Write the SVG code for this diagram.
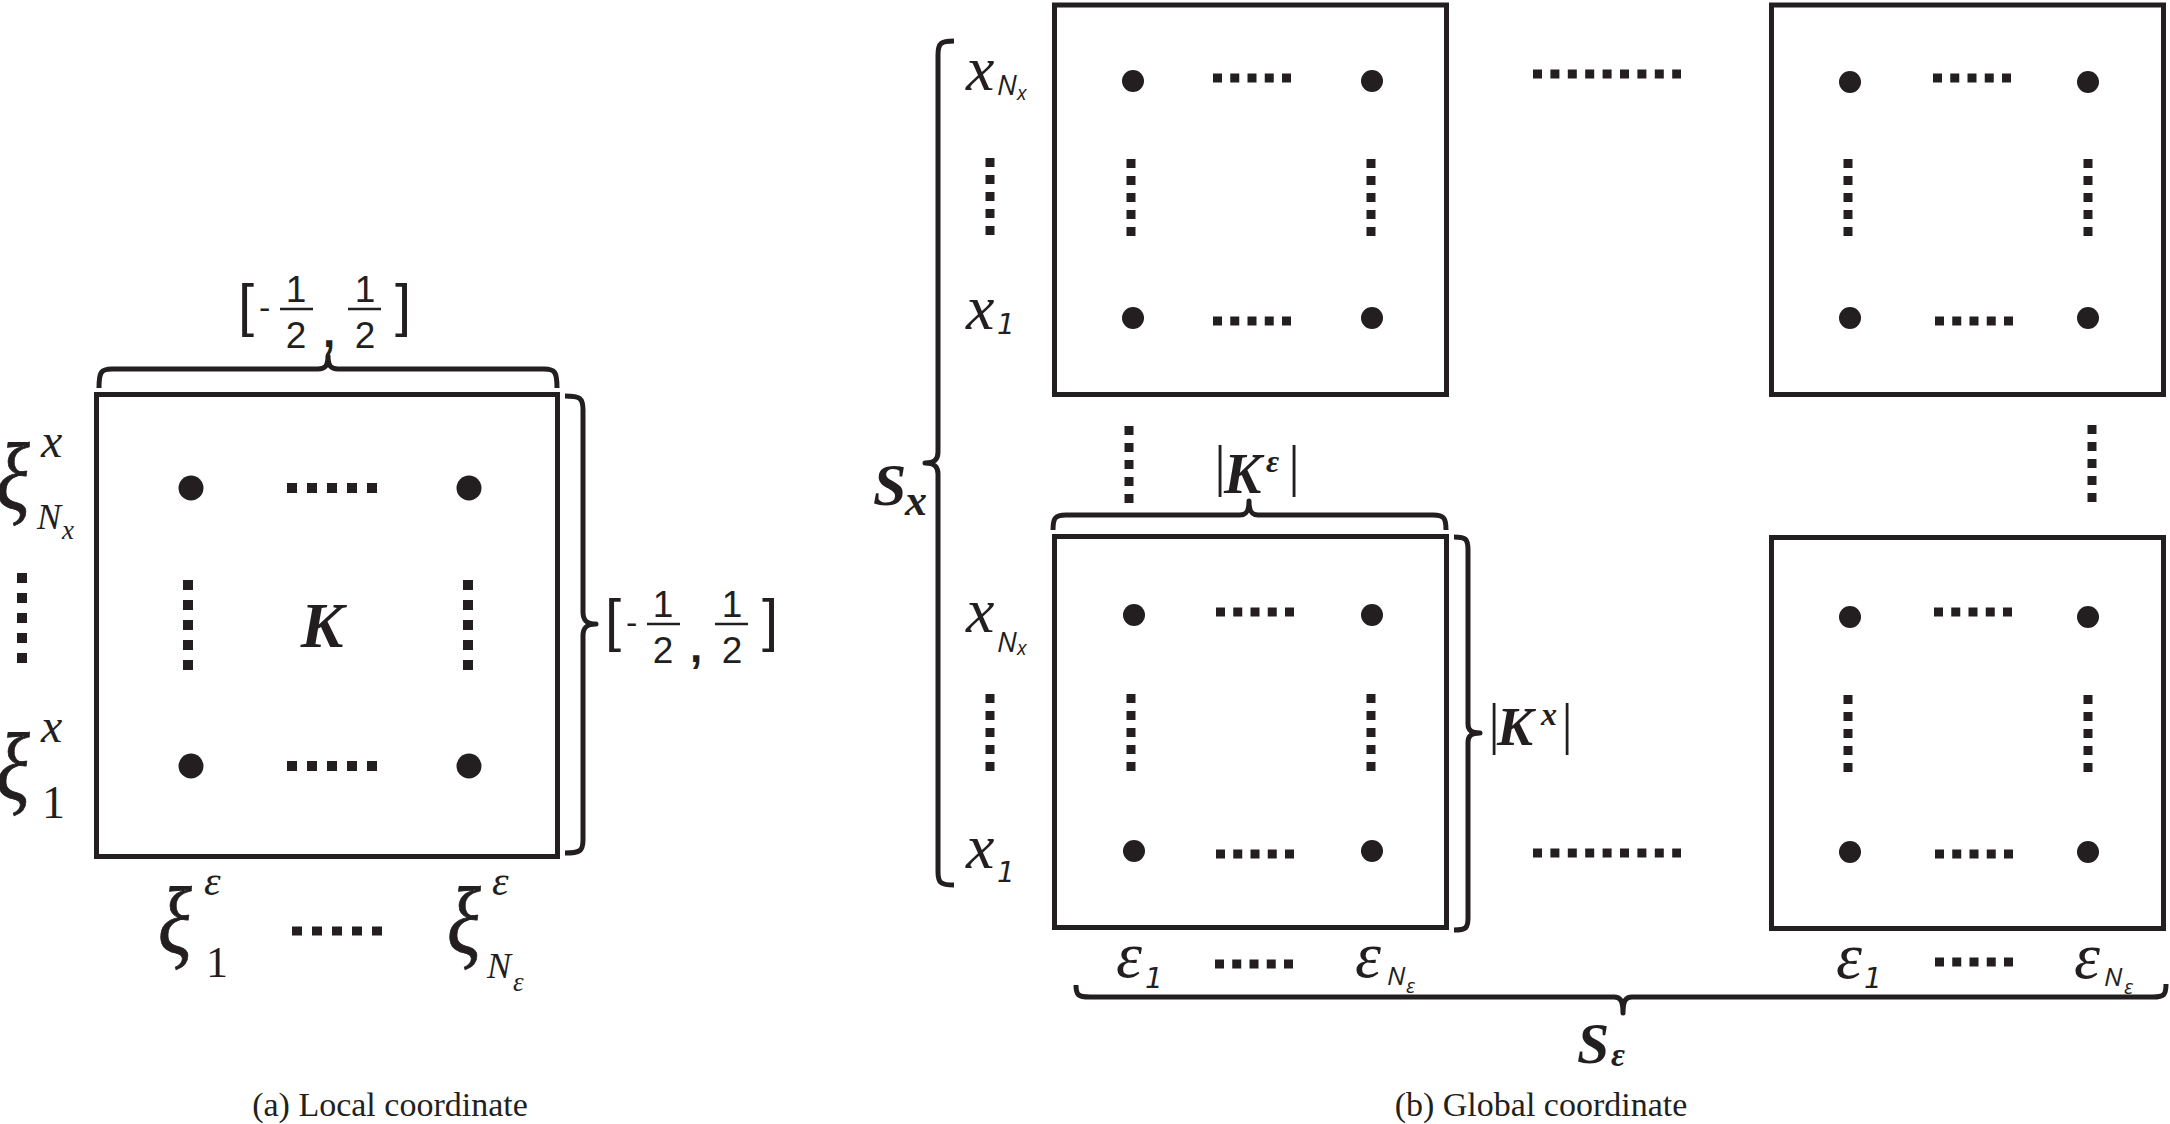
<svg xmlns="http://www.w3.org/2000/svg" width="2170" height="1124" viewBox="0 0 2170 1124">
<style>
.box{fill:none;stroke:#231f20;stroke-width:5}
.br{fill:none;stroke:#231f20;stroke-width:5;stroke-linejoin:round}
.dot{fill:#231f20}
.dl{stroke:#231f20;stroke-width:10;stroke-dasharray:10 10;fill:none}
.ds{stroke:#231f20;stroke-width:9;fill:none}
.h{stroke-dasharray:9 8.25}
.v{stroke-dasharray:9 8}
.m{stroke-dasharray:9 8.4}
.fb{stroke:#231f20;stroke-width:2.5}
text{fill:#231f20}
.si{font-style:italic}
.xi{font-style:italic;font-size:96px;stroke:#231f20;stroke-width:0.8}
.sbi{font-style:italic;font-weight:bold}
.ssi{font-style:italic}
.one{font-style:oblique}
</style>
<defs>
<g id="frac" font-family="Liberation Sans, Arial, sans-serif">
<text x="238" y="325" font-size="58">[</text>
<text x="259" y="319" font-size="34">-</text>
<text x="296" y="302" font-size="37" text-anchor="middle">1</text>
<line class="fb" x1="280" y1="309" x2="313" y2="309"/>
<text x="296" y="348" font-size="37" text-anchor="middle">2</text>
<text x="323" y="347" font-size="44" font-weight="bold">,</text>
<text x="365" y="302" font-size="37" text-anchor="middle">1</text>
<line class="fb" x1="348" y1="309" x2="381" y2="309"/>
<text x="365" y="348" font-size="37" text-anchor="middle">2</text>
<text x="411" y="325" font-size="58" text-anchor="end">]</text>
</g>
</defs>

<g id="local-element">
<rect class="box" x="96.5" y="394.5" width="461" height="462"/>
<circle class="dot" cx="191" cy="488" r="12.5"/>
<circle class="dot" cx="469" cy="488" r="12.5"/>
<circle class="dot" cx="191" cy="766" r="12.5"/>
<circle class="dot" cx="469" cy="766" r="12.5"/>
<path class="dl" d="M287,488H377M287,766H377M188,580V670M468,580V670"/>
<text class="sbi" font-family="Liberation Serif, Times New Roman, serif" x="322" y="647" font-size="64" text-anchor="middle">K</text>
</g>

<g id="local-labels" font-family="Liberation Serif, Times New Roman, serif">
<text class="xi" transform="translate(-4,509) scale(0.82,1)">ξ</text>
<text class="si" x="41" y="457" font-size="48">x</text>
<text class="si" x="37" y="529" font-size="36">N</text>
<text class="si" x="62" y="539" font-size="27">x</text>
<path class="dl" d="M22,573V663"/>
<text class="xi" transform="translate(-4,799) scale(0.82,1)">ξ</text>
<text class="si" x="41" y="742" font-size="48">x</text>
<text x="42" y="818" font-size="46">1</text>

<text class="xi" transform="translate(158,953) scale(0.82,1)">ξ</text>
<text class="si" x="204" y="895" font-size="42">ε</text>
<text x="206" y="977" font-size="44">1</text>
<path class="dl" d="M292,931H382" style="stroke-width:9"/>
<text class="xi" transform="translate(447,953) scale(0.82,1)">ξ</text>
<text class="si" x="492" y="895" font-size="42">ε</text>
<text class="si" x="487" y="978" font-size="36">N</text>
<text class="si" x="513" y="991" font-size="27">ε</text>

<use href="#frac"/>
<use href="#frac" transform="translate(367,315)"/>
<text x="390" y="1116" font-size="34" text-anchor="middle">(a) Local coordinate</text>
</g>

<g id="element-top-left">
<rect class="box" x="1054.5" y="5" width="392" height="389.5"/>
<circle class="dot" cx="1133" cy="81" r="11"/>
<circle class="dot" cx="1372" cy="81" r="11"/>
<circle class="dot" cx="1133" cy="318" r="11"/>
<circle class="dot" cx="1372" cy="318" r="11"/>
<path class="ds h" d="M1213,78H1291M1213,321H1291"/>
<path class="ds v" d="M1131,159V236M1371,159V236"/>
</g>

<g id="element-top-right">
<rect class="box" x="1771.5" y="5" width="392" height="389.5"/>
<circle class="dot" cx="1850" cy="82" r="11"/>
<circle class="dot" cx="2088" cy="82" r="11"/>
<circle class="dot" cx="1850" cy="318" r="11"/>
<circle class="dot" cx="2088" cy="318" r="11"/>
<path class="ds h" d="M1933,78H2011M1935,321H2013"/>
<path class="ds v" d="M1848,159V236M2088,159V236"/>
</g>

<g id="element-bottom-left">
<rect class="box" x="1054.5" y="536.5" width="392" height="391"/>
<circle class="dot" cx="1134" cy="615" r="11"/>
<circle class="dot" cx="1372" cy="615" r="11"/>
<circle class="dot" cx="1134" cy="851" r="11"/>
<circle class="dot" cx="1372" cy="851" r="11"/>
<path class="ds h" d="M1216,612H1294M1216,854H1294"/>
<path class="ds v" d="M1131,694V771M1371,694V771"/>
</g>

<g id="element-bottom-right">
<rect class="box" x="1771.5" y="537.5" width="392" height="391"/>
<circle class="dot" cx="1850" cy="617" r="11"/>
<circle class="dot" cx="2088" cy="617" r="11"/>
<circle class="dot" cx="1850" cy="852" r="11"/>
<circle class="dot" cx="2088" cy="852" r="11"/>
<path class="ds h" d="M1934,612H2012M1935,854H2013"/>
<path class="ds v" d="M1848,695V772M2088,695V772"/>
</g>

<g id="global-ellipses">
<path class="ds m" d="M1533,74H1681M1533,853H1681"/>
<path class="ds v" d="M1129,426V503M2092,425V502M990,158V235M990,694V771"/>
<path class="ds h" d="M1215,964H1293M1935,962H2013"/>
</g>

<g id="global-labels" font-family="Liberation Serif, Times New Roman, serif">
<text class="si" x="966" y="90" font-size="64">x</text>
<text class="si" x="966" y="329" font-size="64">x</text>
<text class="si" x="966" y="632" font-size="64">x</text>
<text class="si" x="966" y="868" font-size="64">x</text>
<text class="si" x="1116" y="977" font-size="66">ε</text>
<text class="si" x="1355" y="977" font-size="66">ε</text>
<text class="si" x="1836" y="978" font-size="66">ε</text>
<text class="si" x="2074" y="978" font-size="66">ε</text>
<g font-family="Open Sans, sans-serif">
<text class="ssi" x="997" y="95" font-size="28">N</text>
<text class="ssi" x="1017" y="100" font-size="20">x</text>
<text class="ssi" x="997" y="652" font-size="28">N</text>
<text class="ssi" x="1017" y="655" font-size="20">x</text>
<text class="ssi" x="1387" y="985" font-size="26">N</text>
<text class="ssi" x="1406" y="993" font-size="20">ε</text>
<text class="ssi" x="2104" y="986" font-size="26">N</text>
<text class="ssi" x="2124" y="994" font-size="20">ε</text>
</g>
<g font-family="DejaVu Sans, sans-serif">
<text class="one" x="997" y="334" font-size="28">1</text>
<text class="one" x="997" y="882" font-size="28">1</text>
<text class="one" x="1145" y="988" font-size="28">1</text>
<text class="one" x="1864" y="988" font-size="28">1</text>
</g>

<text class="sbi" x="873" y="505" font-size="60">S</text>
<text class="sbi" x="905" y="515" font-size="44">x</text>

<text x="1220" y="485" font-size="58" text-anchor="middle">|</text>
<text class="sbi" x="1224" y="493" font-size="56">K</text>
<text class="sbi" x="1266" y="472" font-size="32">ε</text>
<text x="1294" y="485" font-size="58" text-anchor="middle">|</text>

<text x="1494" y="743" font-size="56" text-anchor="middle">|</text>
<text class="sbi" x="1497" y="745" font-size="54">K</text>
<text class="sbi" x="1541" y="725" font-size="32">x</text>
<text x="1567" y="743" font-size="56" text-anchor="middle">|</text>

<text class="sbi" x="1577" y="1063" font-size="58">S</text>
<text class="sbi" x="1611" y="1066" font-size="34">ε</text>

<text x="1541" y="1116" font-size="34" text-anchor="middle">(b) Global coordinate</text>
</g>

<g id="connectors">
<path class="br" d="M99,388C99,372 101,369 112,369L318,369C325,369 328,366 328,356C328,366 331,369 338,369L544,369C555,369 557,372 557,388"/>
<path class="br" d="M565,396C580,396 583,398 583,410L583,612C583,620 586,624 596,624C586,624 583,628 583,636L583,840C583,851 580,853 565,853"/>
<path class="br" d="M954,41C941,41 938,43 938,55L938,452C938,459 935,463 925,463C935,463 938,467 938,474L938,872C938,883 941,885 954,885"/>
<path class="br" d="M1053,530C1053,518 1055,515 1066,515L1240,515C1246,515 1249,512 1249,501C1249,512 1252,515 1258,515L1433,515C1444,515 1446,518 1446,530"/>
<path class="br" d="M1454,537C1466,537 1468,539 1468,550L1468,724C1468,730 1471,733 1480,733C1471,733 1468,736 1468,742L1468,918C1468,928 1466,930 1454,930"/>
<path class="br" d="M1076,985C1076,995 1078,997 1090,997L1614,997C1620,997 1623,1000 1623,1013C1623,1000 1626,997 1632,997L2153,997C2164,997 2166,995 2166,984"/>
</g>
</svg>
